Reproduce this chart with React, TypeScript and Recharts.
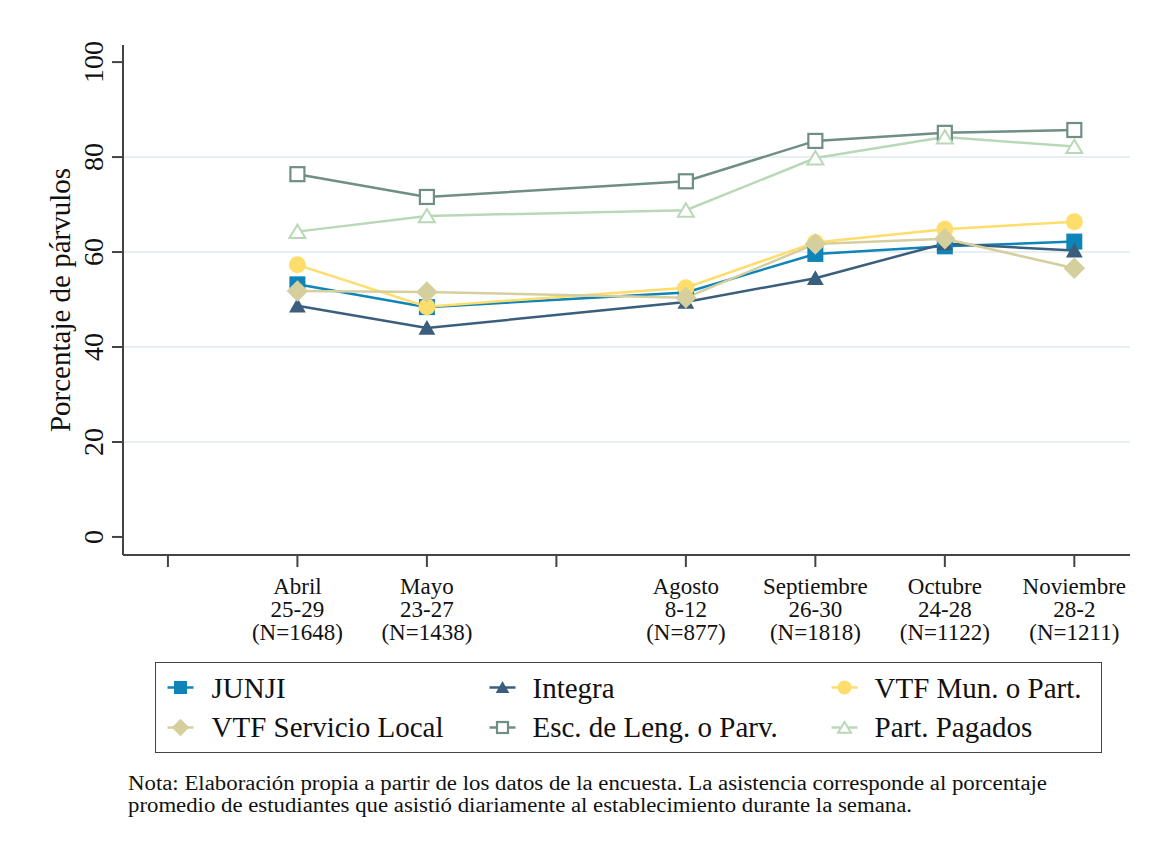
import React from 'react';
import { LineChart, Line, XAxis, YAxis, ReferenceLine, Legend } from 'recharts';

// ---------- data ----------
const periodPos = [1, 2, 4, 5, 6, 7];
const periodMonth = ['Abril', 'Mayo', 'Agosto', 'Septiembre', 'Octubre', 'Noviembre'];
const periodDays = ['25-29', '23-27', '8-12', '26-30', '24-28', '28-2'];
const periodN = ['(N=1648)', '(N=1438)', '(N=877)', '(N=1818)', '(N=1122)', '(N=1211)'];
const xTicks = [0, 1, 2, 3, 4, 5, 6, 7];
const yTicks = [0, 20, 40, 60, 80, 100];
const gridValues = [20, 40, 60, 80];

const junji = [53.2, 48.4, 51.5, 59.6, 61.2, 62.2];
const integra = [48.7, 44.0, 49.5, 54.5, 61.8, 60.3];
const vtfMun = [57.3, 48.5, 52.5, 62.0, 64.8, 66.4];
const vtfServ = [51.8, 51.6, 50.4, 61.7, 62.8, 56.6];
const escLeng = [76.4, 71.6, 74.9, 83.4, 85.1, 85.7];
const partPag = [64.3, 67.6, 68.8, 79.8, 84.2, 82.2];

const seriesKeys = ['junji', 'integra', 'vtfMun', 'vtfServ', 'escLeng', 'partPag'];
const seriesValues = [junji, integra, vtfMun, vtfServ, escLeng, partPag];
const seriesNames = ['JUNJI', 'Integra', 'VTF Mun. o Part.', 'VTF Servicio Local', 'Esc. de Leng. o Parv.', 'Part. Pagados'];
const seriesColors = ['#0e84b8', '#3b5e7c', '#ffdd6c', '#d4cf9d', '#6f8f82', '#b9d8b8'];
const seriesShapes = ['square', 'triangle', 'circle', 'diamond', 'squareHollow', 'triangleHollow'];

const noteLines = [
  'Nota: Elaboración propia a partir de los datos de la encuesta. La asistencia corresponde al porcentaje',
  'promedio de estudiantes que asistió diariamente al establecimiento durante la semana.',
];

const rows = periodPos.map((p, i) => {
  const r: any = { x: p };
  seriesKeys.forEach((k, j) => { r[k] = seriesValues[j][i]; });
  return r;
});

const FONT = '"Liberation Serif", "Times New Roman", serif';
const AXIS = '#444';

// ---------- markers ----------
function Marker({ shape, cx, cy, color, s }: any) {
  switch (shape) {
    case 'square':
      return <rect x={cx - s} y={cy - s} width={2 * s} height={2 * s} fill={color} />;
    case 'squareHollow':
      return <rect x={cx - s + 1} y={cy - s + 1} width={2 * s - 2} height={2 * s - 2} fill="#fff" stroke={color} strokeWidth={2.2} />;
    case 'circle':
      return <circle cx={cx} cy={cy} r={s + 0.5} fill={color} />;
    case 'diamond': {
      const d = s * 1.35;
      return <polygon points={`${cx},${cy - d} ${cx + d},${cy} ${cx},${cy + d} ${cx - d},${cy}`} fill={color} />;
    }
    case 'triangle':
      return <polygon points={`${cx},${cy - s} ${cx + s * 1.05},${cy + s * 0.85} ${cx - s * 1.05},${cy + s * 0.85}`} fill={color} />;
    case 'triangleHollow':
      return <polygon points={`${cx},${cy - s + 1} ${cx + s},${cy + s * 0.8} ${cx - s},${cy + s * 0.8}`} fill="#fff" stroke={color} strokeWidth={2} />;
    default:
      return null;
  }
}

// ---------- ticks ----------
const XTick = (props: any) => {
  const { x, y, payload } = props;
  const i = periodPos.indexOf(payload.value);
  if (i < 0) return <g />;
  return (
    <g>
      <text x={x} y={y} textAnchor="middle" fontSize={23} fill="#111" fontFamily={FONT}>
        <tspan x={x} dy={25}>{periodMonth[i]}</tspan>
        <tspan x={x} dy={23}>{periodDays[i]}</tspan>
        <tspan x={x} dy={23}>{periodN[i]}</tspan>
      </text>
    </g>
  );
};

const YTick = (props: any) => {
  const { x, y, payload } = props;
  return (
    <g>
      <text transform={`translate(${x - 7},${y}) rotate(-90)`} textAnchor="middle" fontSize={28} fill="#111" fontFamily={FONT}>
        {payload.value}
      </text>
    </g>
  );
};

const YTitle = (props: any) => {
  const vb = props.viewBox || { x: 23, y: 45, width: 100, height: 510 };
  const tx = vb.x + vb.width - 53;
  const ty = vb.y + vb.height / 2;
  return (
    <text transform={`translate(${tx},${ty}) rotate(-90)`} textAnchor="middle" fontSize={29} fill="#111" fontFamily={FONT}>
      Porcentaje de párvulos
    </text>
  );
};

// ---------- legend ----------
const legendColKey = [26, 348, 690];
const legendColText = [57, 378, 720];
const legendRowY = [26, 66];
const legendRowBase = [36, 75];

const renderLegend = () => (
  <div style={{ width: 947, height: 91, border: `1.5px solid ${AXIS}`, boxSizing: 'border-box', background: '#fff' }}>
    <svg width={944} height={88} style={{ display: 'block' }}>
      {seriesNames.map((n, i) => {
        const col = i % 3;
        const row = Math.floor(i / 3);
        const kx = legendColKey[col] - 1.5;
        const ky = legendRowY[row] - 1.5;
        return (
          <g key={n}>
            <line x1={kx - 13} x2={kx + 13} y1={ky} y2={ky} stroke={seriesColors[i]} strokeWidth={2.5} />
            <Marker shape={seriesShapes[i]} cx={kx} cy={ky} color={seriesColors[i]} s={6.5} />
            <text x={legendColText[col] - 1.5} y={legendRowBase[row] - 1.5} fontSize={29} fill="#111" fontFamily={FONT}>{n}</text>
          </g>
        );
      })}
    </svg>
  </div>
);

export default function App() {
  return (
    <div style={{ position: 'absolute', left: 0, top: 0, width: 1153, height: 846, background: '#fff', fontFamily: FONT }}>
      <LineChart
        width={1153}
        height={846}
        data={rows}
        margin={{ top: 45, right: 23, bottom: 191, left: 23 }}
      >
        <XAxis
          dataKey="x"
          type="number"
          domain={[-0.347, 7.43]}
          ticks={xTicks}
          allowDataOverflow
          interval={0}
          height={100}
          tickSize={12}
          tickMargin={2}
          axisLine={{ stroke: AXIS, strokeWidth: 2 }}
          tickLine={{ stroke: AXIS, strokeWidth: 2 }}
          tick={<XTick />}
        />
        <YAxis
          type="number"
          domain={[-3.8, 103.6]}
          ticks={yTicks}
          allowDataOverflow
          interval={0}
          width={100}
          tickSize={11}
          tickMargin={2}
          axisLine={{ stroke: AXIS, strokeWidth: 2 }}
          tickLine={{ stroke: AXIS, strokeWidth: 2 }}
          tick={<YTick />}
          label={YTitle}
        />
        {gridValues.map((v) => (
          <ReferenceLine key={v} y={v} stroke="#e6eff2" strokeWidth={2} />
        ))}
        <Legend
          layout="horizontal"
          verticalAlign="middle"
          align="center"
          content={renderLegend}
          wrapperStyle={{ position: 'absolute', left: 155, top: 662, width: 947, height: 91 }}
        />
        {seriesKeys.map((k, i) => (
          <Line
            key={k}
            dataKey={k}
            name={seriesNames[i]}
            stroke={seriesColors[i]}
            strokeWidth={2.5}
            isAnimationActive={false}
            activeDot={false}
            dot={(p: any) => (
              <Marker key={`${k}-${p.index}`} shape={seriesShapes[i]} cx={p.cx} cy={p.cy} color={seriesColors[i]} s={8} />
            )}
          />
        ))}
      </LineChart>
      <svg width={1153} height={60} style={{ position: 'absolute', left: 0, top: 770, display: 'block' }}>
        <text x={128} y={20} fontSize={20} fill="#111" fontFamily={FONT} textLength={919} lengthAdjust="spacingAndGlyphs">
          {noteLines[0]}
        </text>
        <text x={128} y={42} fontSize={20} fill="#111" fontFamily={FONT} textLength={784} lengthAdjust="spacingAndGlyphs">
          {noteLines[1]}
        </text>
      </svg>
    </div>
  );
}
